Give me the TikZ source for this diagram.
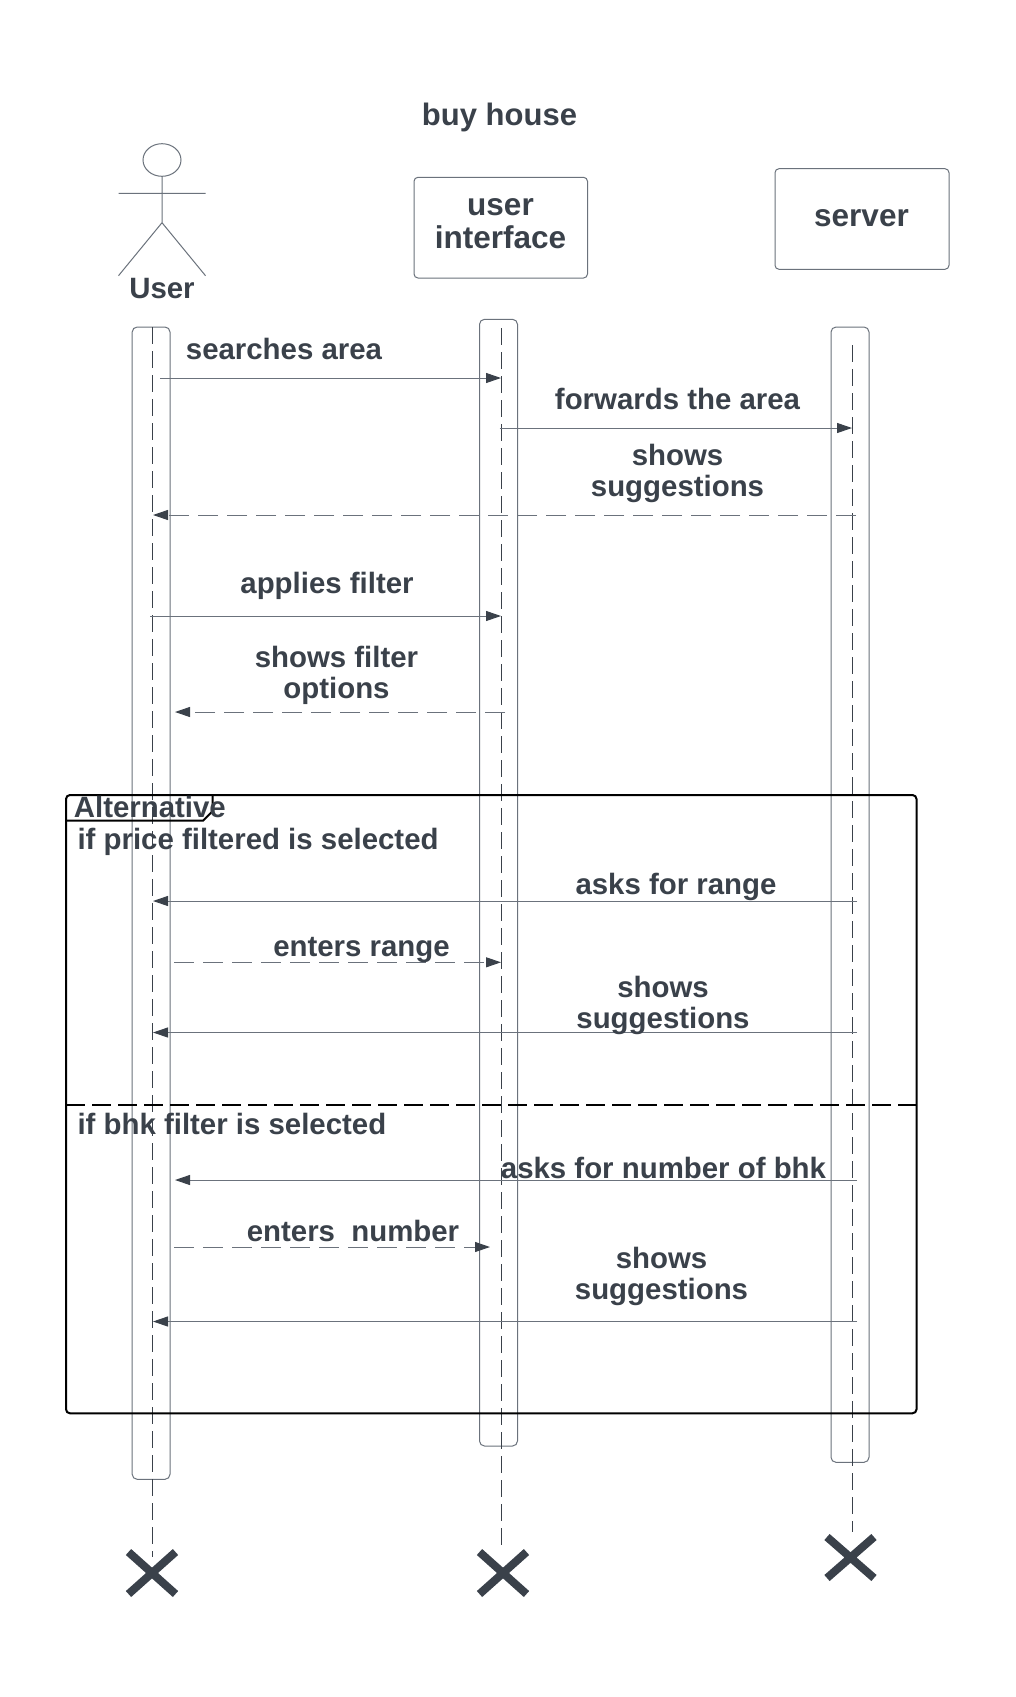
\documentclass[tikz,border=0pt]{standalone}
\usepackage{fontspec}
\setmainfont{Liberation Sans}
\usetikzlibrary{arrows.meta}
\definecolor{ink}{HTML}{3A414A}
\definecolor{wire}{HTML}{6B727C}
\tikzset{
  x=1pt,y=-1pt,
  msgtext/.style={font=\fontsize{29.4}{31}\selectfont\bfseries,text=ink,inner sep=0pt,align=center},
  headtext/.style={font=\fontsize{31.5}{32.6}\selectfont\bfseries,text=ink,inner sep=0pt,align=center},
  titletext/.style={font=\fontsize{31}{33}\selectfont\bfseries,text=ink,inner sep=0pt},
  actorline/.style={draw=wire,line width=1pt},
  objbox/.style={draw=wire,line width=1pt,rounded corners=4pt},
  bar/.style={draw=wire,line width=1pt,rounded corners=5pt},
  life/.style={draw=ink,line width=0.9pt,dash pattern=on 17pt off 7pt},
  msg/.style={draw=wire,line width=1pt,-{Triangle[length=15pt,width=10pt,color=ink]}},
  ret/.style={msg,dash pattern=on 20pt off 9pt},
  framebox/.style={draw=black,line width=2pt},
  divider/.style={draw=black,line width=1.6pt,dash pattern=on 19pt off 7pt},
  kill/.style={draw=ink,line width=8pt}
}
\begin{document}
\begin{tikzpicture}
\useasboundingbox (0,0) rectangle (1015,1697);
\fill[white] (0,0) rectangle (1015,1697);

\node[titletext] (title) at (499.5,117) {buy house};

% actor
\draw[actorline] (162,160) ellipse [x radius=19,y radius=16.3];
\coordinate (neck) at (162,176.3);
\coordinate (hip) at (162,222.7);
\coordinate (armL) at (118.5,193.3);
\coordinate (armR) at (205.5,193.3);
\coordinate (legL) at (118.5,275.7);
\coordinate (legR) at (205.5,275.7);
\draw[actorline] (neck) -- (hip) (armL) -- (armR) (legL) -- (hip) -- (legR);
\node[msgtext] (user) at (162,288.5) {User};

% object boxes
\draw[objbox] (414,177.3) rectangle (587.5,278);
\node[headtext] (ui) at (500.5,223.5) {user\\interface};
\draw[objbox] (775,168.7) rectangle (949,269.3);
\node[headtext] (server) at (861.5,218) {server};

% activation bars
\draw[bar] (132.2,327) rectangle (170,1479.3);
\draw[bar] (479.5,319.3) rectangle (517.5,1446);
\draw[bar] (831,327) rectangle (869,1462.3);

% lifelines
\coordinate (uTop) at (152.5,327);
\coordinate (uEnd) at (152.5,1557);
\coordinate (iTop) at (501.5,328);
\coordinate (iEnd) at (501.5,1547);
\coordinate (sTop) at (852.5,345);
\coordinate (sEnd) at (852.5,1532);
\draw[life] (uTop) -- (uEnd);
\draw[life] (iTop) -- (iEnd);
\draw[life] (sTop) -- (sEnd);

% frame
\draw[framebox,rounded corners=4pt] (66,795) rectangle (916.5,1413.3);
\draw[framebox] (66,820.7) -- (203,820.7) -- (212.7,811) -- (212.7,795);
\node[msgtext,anchor=west] (alt) at (73.7,806.7) {Alternative};
\node[msgtext,anchor=west] (cond1) at (77.3,842.3) {if price filtered is selected};
\coordinate (divL) at (66,1105);
\coordinate (divR) at (916.5,1105);
\draw[divider] (divL) -- (divR);
\node[msgtext,anchor=west] (cond2) at (77.3,1123.5) {if bhk filter is selected};

% messages
\coordinate (m1a) at (160,378);   \coordinate (m1b) at (501,378);
\coordinate (m2a) at (499.5,428); \coordinate (m2b) at (852,428);
\coordinate (m3a) at (856,515);   \coordinate (m3b) at (153,515);
\coordinate (m4a) at (150,616);   \coordinate (m4b) at (501,616);
\coordinate (m5a) at (505,712);   \coordinate (m5b) at (175,712);
\coordinate (m6a) at (857,901);   \coordinate (m6b) at (153,901);
\coordinate (m7a) at (174,962.3); \coordinate (m7b) at (501,962.3);
\coordinate (m8a) at (857,1032.5);\coordinate (m8b) at (153,1032.5);
\coordinate (m9a) at (857,1180);  \coordinate (m9b) at (175,1180);
\coordinate (m10a) at (174,1247); \coordinate (m10b) at (490,1247);
\coordinate (m11a) at (857,1321.5); \coordinate (m11b) at (153,1321.5);
\draw[msg] (m1a) -- (m1b);
\draw[msg] (m2a) -- (m2b);
\draw[ret] (m3a) -- (m3b);
\draw[msg] (m4a) -- (m4b);
\draw[ret] (m5a) -- (m5b);
\draw[msg] (m6a) -- (m6b);
\draw[ret] (m7a) -- (m7b);
\draw[msg] (m8a) -- (m8b);
\draw[msg] (m9a) -- (m9b);
\draw[ret] (m10a) -- (m10b);
\draw[msg] (m11a) -- (m11b);

\node[msgtext] (t1) at (284,349) {searches area};
\node[msgtext] (t2) at (677.5,399) {forwards the area};
\node[msgtext] (t3) at (677.5,473) {shows\\suggestions};
\node[msgtext] (t4) at (327,586) {applies filter};
\node[msgtext] (t5) at (336.5,675.5) {shows filter\\options};
\node[msgtext] (t6) at (676,886.5) {asks for range};
\node[msgtext] (t7) at (361.5,950) {enters range};
\node[msgtext] (t8) at (663,1005.5) {shows\\suggestions};
\node[msgtext] (t9) at (663.5,1168) {asks for number of bhk};
\node[msgtext] (t10) at (353,1231) {enters\ \ number};
\node[msgtext] (t11) at (661.5,1276) {shows\\suggestions};

% destruction marks
\coordinate (xa1) at (128.5,1552); \coordinate (xa2) at (175.5,1594);
\coordinate (xa3) at (128.5,1594); \coordinate (xa4) at (175.5,1552);
\draw[kill] (xa1) -- (xa2) (xa3) -- (xa4);
\coordinate (xb1) at (479.5,1552); \coordinate (xb2) at (526.5,1594);
\coordinate (xb3) at (479.5,1594); \coordinate (xb4) at (526.5,1552);
\draw[kill] (xb1) -- (xb2) (xb3) -- (xb4);
\coordinate (xc1) at (827,1537); \coordinate (xc2) at (874,1578);
\coordinate (xc3) at (827,1578); \coordinate (xc4) at (874,1537);
\draw[kill] (xc1) -- (xc2) (xc3) -- (xc4);
\end{tikzpicture}
\end{document}
